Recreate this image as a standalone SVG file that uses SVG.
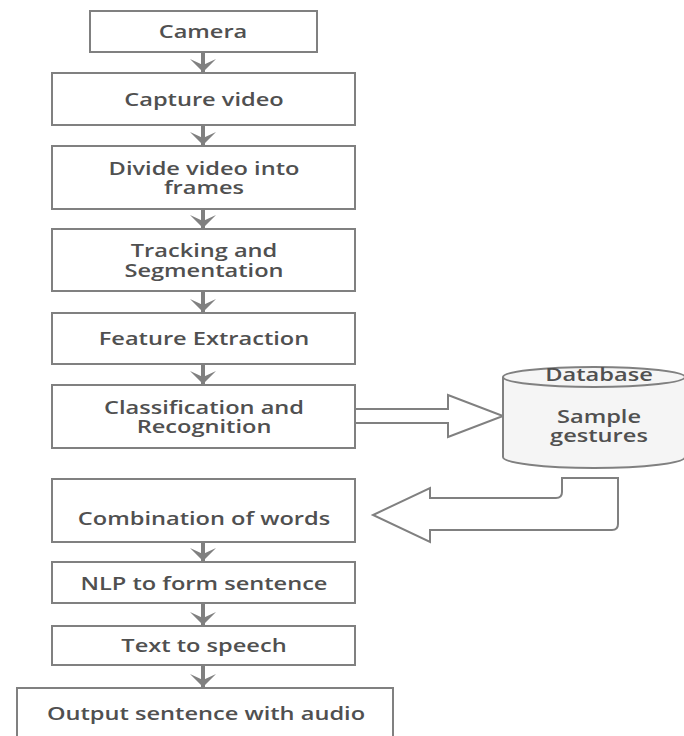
<svg xmlns="http://www.w3.org/2000/svg" width="684" height="736" viewBox="0 0 684 736">
<style>
.box{fill:#fff;stroke:#808080;stroke-width:2}
.t{font-family:"Open Sans","DejaVu Sans",sans-serif;font-size:17.5px;font-weight:600;fill:#505050;text-anchor:middle}
.conn{stroke:#808080;stroke-width:4;fill:none}
.block{fill:#fff;stroke:#808080;stroke-width:2;stroke-linejoin:miter}
</style>
<defs>
<marker id="ah" markerUnits="userSpaceOnUse" viewBox="-15 -15 30 30" markerWidth="30" markerHeight="30" refX="0" refY="0" orient="auto">
<path d="M0,0 L-13,-13 L-7,0 L-13,13 Z" fill="#808080"/>
</marker>
</defs>
<rect width="684" height="736" fill="#fff"/>
<g id="connectors">
<line class="conn" x1="203" y1="52" x2="203" y2="72" marker-end="url(#ah)"/>
<line class="conn" x1="203" y1="125" x2="203" y2="145" marker-end="url(#ah)"/>
<line class="conn" x1="203" y1="209" x2="203" y2="228" marker-end="url(#ah)"/>
<line class="conn" x1="203" y1="291" x2="203" y2="312" marker-end="url(#ah)"/>
<line class="conn" x1="203" y1="364" x2="203" y2="384" marker-end="url(#ah)"/>
<line class="conn" x1="203" y1="542" x2="203" y2="561" marker-end="url(#ah)"/>
<line class="conn" x1="203" y1="603" x2="203" y2="625" marker-end="url(#ah)"/>
<line class="conn" x1="203" y1="665" x2="203" y2="687" marker-end="url(#ah)"/>
<path class="block" d="M356,409 L448,409 L448,395 L503,416 L448,437 L448,423 L356,423"/>
<path class="block" d="M562,478 L562,492 Q562,498 556,498 L430,498 L430,488 L373,515 L430,542 L430,530 L612,530 Q618,530 618,524 L618,478 Z"/>
</g>
<g id="camera"><rect class="box" x="90" y="11" width="227" height="41"/><text class="t" transform="translate(203,38) scale(1.35,1)">Camera</text></g>
<g id="capture"><rect class="box" x="52" y="73" width="303" height="52"/><text class="t" transform="translate(204,106) scale(1.35,1)">Capture video</text></g>
<g id="divide"><rect class="box" x="52" y="146" width="303" height="63"/><text class="t" transform="translate(204,175) scale(1.35,1)">Divide video into</text><text class="t" transform="translate(204,194) scale(1.35,1)">frames</text></g>
<g id="tracking"><rect class="box" x="52" y="229" width="303" height="62"/><text class="t" transform="translate(204,257) scale(1.35,1)">Tracking and</text><text class="t" transform="translate(204,277) scale(1.35,1)">Segmentation</text></g>
<g id="feature"><rect class="box" x="52" y="313" width="303" height="51"/><text class="t" transform="translate(204,345) scale(1.35,1)">Feature Extraction</text></g>
<g id="classification"><rect class="box" x="52" y="385" width="303" height="63"/><text class="t" transform="translate(204,414) scale(1.35,1)">Classification and</text><text class="t" transform="translate(204,433) scale(1.35,1)">Recognition</text></g>
<g id="database">
<path d="M503,377 L503,457 A91,11 0 0 0 685,457 L685,377" fill="#f5f5f5" stroke="#808080" stroke-width="2"/>
<ellipse cx="594" cy="377" rx="91" ry="10" fill="#f5f5f5" stroke="#808080" stroke-width="2"/>
<text class="t" transform="translate(599,381) scale(1.35,1)">Database</text>
<text class="t" transform="translate(599,423) scale(1.35,1)">Sample</text>
<text class="t" transform="translate(599,442) scale(1.35,1)">gestures</text>
</g>
<g id="combination"><rect class="box" x="52" y="479" width="303" height="63"/><text class="t" transform="translate(204,525) scale(1.35,1)">Combination of words</text></g>
<g id="nlp"><rect class="box" x="52" y="562" width="303" height="41"/><text class="t" transform="translate(204,590) scale(1.35,1)">NLP to form sentence</text></g>
<g id="tts"><rect class="box" x="52" y="626" width="303" height="39"/><text class="t" transform="translate(204,652) scale(1.35,1)">Text to speech</text></g>
<g id="output"><rect class="box" x="17" y="688" width="376" height="60"/><text class="t" transform="translate(206,720) scale(1.35,1)">Output sentence with audio</text></g>
</svg>
